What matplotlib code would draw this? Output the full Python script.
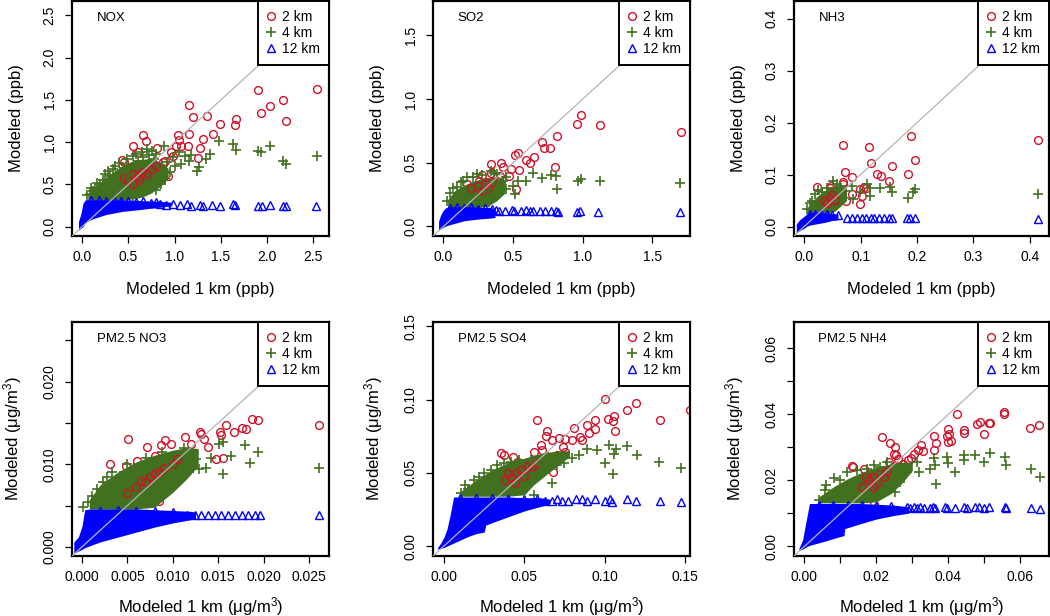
import matplotlib
matplotlib.use("Agg")
import matplotlib.pyplot as plt
from matplotlib.lines import Line2D

plt.rcParams["font.family"] = ["Liberation Sans", "DejaVu Sans"]
plt.rcParams["mathtext.fontset"] = "custom"
plt.rcParams["mathtext.rm"] = "Liberation Sans"
plt.rcParams["mathtext.it"] = "Liberation Sans:italic"

RED = "#d0112b"
GREEN = "#41701f"
BLUE = "#0000ff"
LINE_GREY = "#b4b4b4"

SERIES = ["2 km", "4 km", "12 km"]

# ---------------- NOX ----------------
NOX_RED = [(1.16, 1.44), (1.20, 1.30), (1.35, 1.31), (0.66, 1.08), (0.69, 1.01), (0.55, 0.96),
           (0.60, 0.88), (0.43, 0.79), (0.45, 0.77), (0.81, 0.93), (1.05, 1.03), (1.04, 1.09),
           (1.16, 1.10), (1.15, 0.95), (1.07, 0.96), (0.96, 0.88), (1.02, 0.96), (1.27, 0.93),
           (1.31, 1.04), (1.42, 1.10), (1.49, 1.22), (1.65, 1.20), (1.66, 1.28), (1.25, 0.81),
           (1.90, 1.62), (1.93, 1.34), (2.03, 1.43), (2.17, 1.50), (2.21, 1.25), (2.54, 1.63),
           (0.83, 0.62), (0.93, 0.60), (0.87, 0.76), (0.66, 0.62), (0.54, 0.68), (0.48, 0.55),
           (0.80, 0.55), (0.47, 0.52), (0.55, 0.60), (0.62, 0.64), (0.70, 0.68), (0.75, 0.70),
           (0.60, 0.50), (0.52, 0.48), (0.68, 0.58), (0.90, 0.78), (0.98, 0.84), (0.72, 0.75),
           (0.78, 0.74), (0.58, 0.70), (0.49, 0.70), (0.85, 0.55)]
NOX_RED_INNER = [(0.45, 0.58), (0.50, 0.55), (0.55, 0.62), (0.60, 0.60), (0.65, 0.65),
                 (0.70, 0.62), (0.62, 0.55), (0.75, 0.68), (0.80, 0.72), (0.55, 0.50)]
NOX_GREEN = [(1.48, 1.01), (1.63, 0.98), (1.66, 0.91), (1.90, 0.89), (1.93, 0.88), (2.03, 0.95),
             (2.17, 0.78), (2.21, 0.74), (2.54, 0.84), (1.24, 0.66), (1.26, 0.71), (1.34, 0.80),
             (1.38, 0.86), (1.07, 0.74), (1.16, 0.78), (1.11, 0.84), (1.18, 0.85), (0.98, 0.82),
             (0.75, 0.90), (0.19, 0.51), (0.09, 0.39), (0.14, 0.45), (0.25, 0.62), (0.33, 0.68),
             (0.40, 0.75), (0.55, 0.84), (0.65, 0.88), (0.70, 0.92), (1.00, 0.72), (0.95, 0.65),
             (0.90, 0.58), (0.85, 0.50), (0.80, 0.44), (1.05, 0.88), (0.88, 0.95), (0.12, 0.42),
             (0.22, 0.55), (0.30, 0.60), (0.45, 0.70), (0.60, 0.78), (0.78, 0.80), (0.50, 0.60),
             (0.35, 0.50), (0.62, 0.40), (0.70, 0.45), (0.20, 0.40), (0.40, 0.38), (0.55, 0.36),
             (0.28, 0.66), (0.36, 0.72), (0.48, 0.80), (0.58, 0.86), (0.66, 0.82), (0.72, 0.85),
             (0.80, 0.86), (0.92, 0.76), (0.86, 0.70), (0.10, 0.46), (0.16, 0.52), (0.05, 0.38)]
NOX_BLUE = [(0.84, 0.27), (0.91, 0.26), (0.98, 0.27), (1.06, 0.26), (1.13, 0.27), (1.18, 0.25),
            (1.27, 0.26), (1.31, 0.25), (1.40, 0.26), (1.49, 0.25), (1.63, 0.27), (1.65, 0.26),
            (1.90, 0.25), (1.94, 0.25), (2.03, 0.26), (2.17, 0.24), (2.21, 0.24), (2.53, 0.25),
            (0.10, 0.31), (0.18, 0.31), (0.26, 0.30), (0.34, 0.31), (0.42, 0.30), (0.50, 0.30),
            (0.58, 0.29), (0.66, 0.30), (0.74, 0.28), (0.80, 0.29)]
NOX_GREEN_CORE_X = [0.06, 0.15, 0.25, 0.35, 0.45, 0.55, 0.65, 0.75, 0.85, 0.93]
NOX_GREEN_CORE_LO = [0.32, 0.32, 0.32, 0.32, 0.32, 0.33, 0.35, 0.40, 0.48, 0.57]
NOX_GREEN_CORE_HI = [0.37, 0.48, 0.58, 0.66, 0.73, 0.78, 0.80, 0.80, 0.76, 0.69]
NOX_BLUE_CORE_X = [-0.04, -0.015, 0.01, 0.036, 0.108, 0.251, 0.431, 0.611, 0.826, 0.97]
NOX_BLUE_CORE_LO = [-0.04, -0.02, 0.0, 0.051, 0.091, 0.142, 0.181, 0.201, 0.229, 0.249]
NOX_BLUE_CORE_HI = [0.06, 0.15, 0.28, 0.32, 0.32, 0.32, 0.32, 0.31, 0.30, 0.29]

# ---------------- SO2 ----------------
SO2_RED = [(1.706, 0.743), (0.989, 0.876), (0.96, 0.803), (1.121, 0.793), (0.814, 0.712),
           (0.708, 0.665), (0.72, 0.616), (0.768, 0.616), (0.80, 0.47), (0.648, 0.548),
           (0.623, 0.495), (0.592, 0.522), (0.532, 0.574), (0.513, 0.561), (0.52, 0.295),
           (0.539, 0.446), (0.484, 0.451), (0.416, 0.495), (0.431, 0.464), (0.339, 0.49),
           (0.339, 0.417), (0.279, 0.407), (0.406, 0.399), (0.471, 0.399), (0.255, 0.36),
           (0.316, 0.347), (0.388, 0.36), (0.219, 0.268), (0.279, 0.256), (0.171, 0.334)]
SO2_RED_INNER = [(0.20, 0.30), (0.25, 0.32), (0.30, 0.33), (0.28, 0.28), (0.35, 0.35),
                 (0.32, 0.30)]
SO2_GREEN = [(1.699, 0.339), (1.121, 0.36), (0.989, 0.373), (0.965, 0.36), (0.809, 0.399),
             (0.816, 0.295), (0.773, 0.407), (0.708, 0.378), (0.64, 0.417), (0.592, 0.36),
             (0.532, 0.36), (0.513, 0.256), (0.496, 0.321), (0.448, 0.295), (0.327, 0.19),
             (0.424, 0.36), (0.05, 0.26), (0.027, 0.203), (0.099, 0.307), (0.171, 0.386),
             (0.243, 0.412), (0.339, 0.438), (0.123, 0.347), (0.388, 0.412), (0.448, 0.386),
             (0.291, 0.282), (0.243, 0.229), (0.171, 0.229), (0.375, 0.256), (0.07, 0.30),
             (0.14, 0.36), (0.21, 0.39), (0.28, 0.40), (0.36, 0.42), (0.41, 0.34)]
SO2_BLUE = [(0.38, 0.13), (0.40, 0.12), (0.44, 0.12), (0.49, 0.13), (0.51, 0.12), (0.56, 0.12),
            (0.59, 0.13), (0.62, 0.12), (0.64, 0.12), (0.69, 0.12), (0.73, 0.12), (0.77, 0.12),
            (0.81, 0.12), (0.82, 0.11), (0.96, 0.11), (0.98, 0.12), (1.11, 0.11), (1.70, 0.11),
            (0.05, 0.145), (0.10, 0.15), (0.15, 0.145), (0.20, 0.15), (0.25, 0.14), (0.30, 0.145),
            (0.35, 0.14)]
SO2_GREEN_CORE_X = [0.03, 0.08, 0.14, 0.20, 0.26, 0.32, 0.38, 0.44]
SO2_GREEN_CORE_LO = [0.15, 0.15, 0.15, 0.15, 0.15, 0.16, 0.20, 0.26]
SO2_GREEN_CORE_HI = [0.21, 0.28, 0.32, 0.35, 0.37, 0.38, 0.38, 0.36]
SO2_BLUE_CORE_X = [-0.035, -0.02, 0.0, 0.02, 0.05, 0.10, 0.15, 0.20, 0.27, 0.33, 0.37]
SO2_BLUE_CORE_LO = [-0.03, -0.02, -0.005, 0.005, 0.015, 0.03, 0.045, 0.052, 0.06, 0.065, 0.07]
SO2_BLUE_CORE_HI = [0.04, 0.09, 0.13, 0.15, 0.155, 0.155, 0.155, 0.155, 0.15, 0.15, 0.14]

# ---------------- NH3 ----------------
NH3_RED = [(0.069, 0.157), (0.115, 0.153), (0.19, 0.174), (0.414, 0.166), (0.119, 0.122),
           (0.196, 0.128), (0.072, 0.105), (0.084, 0.096), (0.13, 0.102), (0.137, 0.098),
           (0.156, 0.116), (0.184, 0.101), (0.15, 0.088), (0.069, 0.085), (0.068, 0.082),
           (0.022, 0.077), (0.045, 0.075), (0.049, 0.069), (0.103, 0.059), (0.099, 0.072),
           (0.109, 0.075), (0.084, 0.063), (0.075, 0.05), (0.058, 0.056), (0.099, 0.044),
           (0.106, 0.077), (0.047, 0.079)]
NH3_RED_INNER = [(0.035, 0.050), (0.045, 0.055), (0.050, 0.060), (0.055, 0.052), (0.040, 0.045)]
NH3_GREEN = [(0.414, 0.063), (0.196, 0.072), (0.184, 0.056), (0.193, 0.066), (0.156, 0.066),
             (0.152, 0.077), (0.134, 0.075), (0.116, 0.075), (0.111, 0.082), (0.116, 0.058),
             (0.087, 0.053), (0.099, 0.066), (0.084, 0.079), (0.052, 0.088), (0.04, 0.075),
             (0.014, 0.05), (0.005, 0.034), (0.019, 0.063), (0.063, 0.079), (0.075, 0.069),
             (0.031, 0.066), (0.025, 0.070), (0.058, 0.082), (0.010, 0.045)]
NH3_BLUE = [(0.076, 0.017), (0.085, 0.016), (0.094, 0.017), (0.103, 0.016), (0.109, 0.017),
            (0.118, 0.016), (0.123, 0.017), (0.132, 0.016), (0.141, 0.017), (0.15, 0.016),
            (0.156, 0.016), (0.182, 0.016), (0.188, 0.016), (0.197, 0.016), (0.414, 0.015),
            (0.01, 0.025), (0.02, 0.025), (0.03, 0.024), (0.04, 0.024), (0.05, 0.023),
            (0.06, 0.022)]
NH3_GREEN_CORE_X = [0.005, 0.015, 0.025, 0.035, 0.045, 0.055, 0.065, 0.075]
NH3_GREEN_CORE_LO = [0.025, 0.025, 0.025, 0.025, 0.026, 0.030, 0.040, 0.050]
NH3_GREEN_CORE_HI = [0.036, 0.050, 0.060, 0.068, 0.074, 0.077, 0.078, 0.075]
NH3_BLUE_CORE_X = [-0.014, -0.008, 0.0, 0.005, 0.01, 0.02, 0.03, 0.04, 0.05, 0.06]
NH3_BLUE_CORE_LO = [-0.012, -0.008, -0.003, 0.001, 0.003, 0.005, 0.007, 0.009, 0.012, 0.013]
NH3_BLUE_CORE_HI = [0.005, 0.013, 0.020, 0.025, 0.027, 0.027, 0.027, 0.026, 0.025, 0.024]

# ---------------- PM2.5 NO3 ----------------
NO3_RED = [(0.0261, 0.0148), (0.0194, 0.0154), (0.0187, 0.0155), (0.0176, 0.0144),
           (0.0181, 0.0142), (0.0167, 0.0139), (0.0159, 0.0147), (0.0152, 0.0139),
           (0.0153, 0.0135), (0.0155, 0.0107), (0.0148, 0.0106), (0.0130, 0.0139),
           (0.0131, 0.0137), (0.0134, 0.0131), (0.0139, 0.0121), (0.0113, 0.0133),
           (0.0120, 0.0125), (0.0098, 0.0125), (0.0091, 0.0129), (0.0087, 0.0123),
           (0.0072, 0.0121), (0.0051, 0.0131), (0.0061, 0.0104), (0.0031, 0.0100),
           (0.0048, 0.0098), (0.0080, 0.0110), (0.0083, 0.0078), (0.0085, 0.0055),
           (0.0055, 0.0081), (0.0103, 0.0106), (0.0109, 0.0110), (0.0116, 0.0102),
           (0.0074, 0.0094), (0.0064, 0.0084), (0.0048, 0.0068)]
NO3_RED_INNER = [(0.0050, 0.0065), (0.0060, 0.0072), (0.0070, 0.0078), (0.0075, 0.0085),
                 (0.0080, 0.0088), (0.0090, 0.0095), (0.0100, 0.0100), (0.0105, 0.0106),
                 (0.0065, 0.0080), (0.0085, 0.0090)]
NO3_GREEN = [(0.0261, 0.0095), (0.0185, 0.0102), (0.0194, 0.0115), (0.0179, 0.0123),
             (0.0164, 0.0110), (0.0155, 0.0088), (0.0155, 0.0127), (0.0151, 0.0125),
             (0.0142, 0.0108), (0.0137, 0.0095), (0.0129, 0.0094), (0.0122, 0.0096),
             (0.0109, 0.0094), (0.0099, 0.0098), (0.0071, 0.0107), (0.0033, 0.0090),
             (0.0023, 0.0078), (0.0016, 0.0070), (0.0011, 0.0062), (0.0007, 0.0054),
             (0.0057, 0.0096), (0.0042, 0.0086), (0.0001, 0.0048), (0.0027, 0.0084),
             (0.0050, 0.0100), (0.0088, 0.0115), (0.0112, 0.0120), (0.0125, 0.0106)]
NO3_BLUE = [(0.0116, 0.0039), (0.0124, 0.0038), (0.0131, 0.0039), (0.0139, 0.0038),
            (0.0146, 0.0038), (0.0153, 0.0039), (0.0161, 0.0038), (0.0168, 0.0038),
            (0.0176, 0.0039), (0.0183, 0.0038), (0.0190, 0.0038), (0.0196, 0.0038),
            (0.0261, 0.0038), (0.002, 0.0044), (0.004, 0.0045), (0.006, 0.0044),
            (0.008, 0.0043), (0.010, 0.0042)]
NO3_GREEN_CORE_X = [0.0008, 0.002, 0.004, 0.006, 0.008, 0.010, 0.0115, 0.0128]
NO3_GREEN_CORE_LO = [0.0046, 0.0046, 0.0046, 0.0046, 0.0048, 0.0066, 0.0082, 0.0098]
NO3_GREEN_CORE_HI = [0.0057, 0.0075, 0.0091, 0.0103, 0.0111, 0.0117, 0.0120, 0.0119]
NO3_BLUE_CORE_X = [-0.0009, -0.0004, 0.0, 0.0003, 0.001, 0.002, 0.004, 0.006, 0.008, 0.010,
                   0.012, 0.0125]
NO3_BLUE_CORE_LO = [-0.0008, -0.0005, -0.0003, -0.0001, 0.0002, 0.0006, 0.0012, 0.0018,
                    0.0024, 0.0029, 0.0033, 0.0034]
NO3_BLUE_CORE_HI = [0.0006, 0.0012, 0.0025, 0.0045, 0.0046, 0.0046, 0.0046, 0.0046, 0.0045,
                    0.0044, 0.0043, 0.0042]

# ---------------- PM2.5 SO4 ----------------
SO4_RED = [(0.1532, 0.0927), (0.1343, 0.0859), (0.1197, 0.0977), (0.1138, 0.0927),
           (0.1004, 0.1006), (0.1021, 0.0870), (0.1052, 0.0854), (0.1057, 0.0888),
           (0.1063, 0.0789), (0.0937, 0.0863), (0.0941, 0.0797), (0.0899, 0.0775),
           (0.0889, 0.0825), (0.0857, 0.0723), (0.0847, 0.0746), (0.0811, 0.0809),
           (0.0794, 0.0727), (0.0742, 0.0678), (0.0715, 0.0739), (0.0752, 0.0734),
           (0.0669, 0.0723), (0.0643, 0.0784), (0.0633, 0.0752), (0.0601, 0.0689),
           (0.0580, 0.0863), (0.0612, 0.0655), (0.0560, 0.0644), (0.0700, 0.0625),
           (0.0752, 0.0644), (0.0669, 0.0576), (0.0679, 0.0508), (0.0354, 0.0632),
           (0.0375, 0.0621), (0.0428, 0.0610), (0.0522, 0.0576), (0.0480, 0.0542),
           (0.0438, 0.0485), (0.0396, 0.0440), (0.0511, 0.0519), (0.0459, 0.0576)]
SO4_RED_INNER = [(0.038, 0.045), (0.042, 0.047), (0.045, 0.050), (0.048, 0.052), (0.050, 0.048),
                 (0.052, 0.055), (0.055, 0.054), (0.058, 0.057), (0.044, 0.043), (0.040, 0.050)]
SO4_GREEN = [(0.1475, 0.0530), (0.1340, 0.0576), (0.1199, 0.0621), (0.1140, 0.0684),
             (0.1067, 0.0666), (0.1057, 0.0628), (0.1052, 0.0489), (0.1004, 0.0564),
             (0.1025, 0.0689), (0.0952, 0.0655), (0.0889, 0.0666), (0.0840, 0.0621),
             (0.0794, 0.0598), (0.0748, 0.0564), (0.0669, 0.0428), (0.0700, 0.0553),
             (0.0626, 0.0530), (0.0103, 0.0360), (0.0134, 0.0417), (0.0186, 0.0451),
             (0.0249, 0.0496), (0.0333, 0.0553), (0.0375, 0.0564), (0.0469, 0.0587),
             (0.0543, 0.0587), (0.0595, 0.0553), (0.0560, 0.0349), (0.0150, 0.0390),
             (0.0220, 0.0470), (0.0290, 0.0520), (0.0420, 0.0575), (0.0650, 0.0610)]
SO4_BLUE = [(0.0669, 0.031), (0.0700, 0.032), (0.0731, 0.031), (0.0774, 0.031), (0.0820, 0.032),
            (0.0857, 0.032), (0.0889, 0.031), (0.0937, 0.032), (0.1004, 0.031), (0.1035, 0.032),
            (0.1042, 0.030), (0.1140, 0.032), (0.1197, 0.031), (0.1343, 0.031), (0.1475, 0.030),
            (0.010, 0.033), (0.020, 0.033), (0.030, 0.033), (0.040, 0.032), (0.050, 0.032),
            (0.058, 0.032), (0.063, 0.031)]
SO4_GREEN_CORE_X = [0.010, 0.020, 0.030, 0.040, 0.050, 0.056, 0.064, 0.072, 0.078]
SO4_GREEN_CORE_LO = [0.034, 0.034, 0.034, 0.034, 0.035, 0.042, 0.049, 0.056, 0.061]
SO4_GREEN_CORE_HI = [0.037, 0.045, 0.052, 0.057, 0.060, 0.062, 0.064, 0.065, 0.065]
SO4_BLUE_CORE_X = [-0.004, -0.002, 0.0, 0.002, 0.004, 0.006, 0.010, 0.015, 0.020, 0.025, 0.026,
                   0.030, 0.040, 0.050, 0.060, 0.066]
SO4_BLUE_CORE_LO = [-0.002, -0.0015, -0.001, 0.0, 0.001, 0.002, 0.004, 0.0065, 0.0085, 0.0095,
                    0.0143, 0.016, 0.020, 0.024, 0.027, 0.029]
SO4_BLUE_CORE_HI = [-0.001, 0.002, 0.006, 0.012, 0.022, 0.0335, 0.0335, 0.0335, 0.0335, 0.0335,
                    0.0335, 0.0335, 0.0335, 0.033, 0.033, 0.032]

# ---------------- PM2.5 NH4 ----------------
NH4_RED = [(0.0423, 0.0400), (0.0480, 0.0372), (0.0489, 0.0376), (0.0514, 0.0374),
           (0.0498, 0.0341), (0.0444, 0.0354), (0.0444, 0.0343), (0.0400, 0.0357),
           (0.0403, 0.0341), (0.0396, 0.0336), (0.0398, 0.0316), (0.0407, 0.0319),
           (0.0359, 0.0336), (0.0366, 0.0313), (0.0359, 0.0291), (0.0331, 0.0289),
           (0.0324, 0.0306), (0.0315, 0.0293), (0.0306, 0.0281), (0.0296, 0.0269),
           (0.0287, 0.0261), (0.0273, 0.0251), (0.0259, 0.0266), (0.0255, 0.0276),
           (0.0250, 0.0245), (0.0236, 0.0255), (0.0215, 0.0333), (0.0239, 0.0313),
           (0.0253, 0.0301), (0.0248, 0.0279), (0.0167, 0.0235), (0.0131, 0.0245),
           (0.0134, 0.0240), (0.0194, 0.0129), (0.0185, 0.0200), (0.0204, 0.0210),
           (0.0176, 0.0195), (0.0157, 0.0200), (0.0218, 0.0225), (0.0628, 0.0360),
           (0.0651, 0.0368), (0.0556, 0.0408), (0.0554, 0.0400), (0.0515, 0.0373)]
NH4_RED_INNER = [(0.016, 0.018), (0.018, 0.020), (0.019, 0.021), (0.020, 0.019), (0.021, 0.022),
                 (0.022, 0.021), (0.017, 0.021), (0.023, 0.023), (0.019, 0.018)]
NH4_GREEN = [(0.0654, 0.0211), (0.0631, 0.0234), (0.0558, 0.0272), (0.0561, 0.0248),
             (0.0515, 0.0282), (0.0498, 0.0257), (0.0475, 0.0277), (0.0443, 0.0277),
             (0.0444, 0.0262), (0.0419, 0.0226), (0.0398, 0.0252), (0.0396, 0.0272),
             (0.0364, 0.0246), (0.0367, 0.0188), (0.0359, 0.0267), (0.0348, 0.0236),
             (0.0313, 0.0257), (0.0318, 0.0226), (0.0285, 0.0226), (0.0253, 0.0166),
             (0.0267, 0.0196), (0.0211, 0.0242), (0.0174, 0.0236), (0.0119, 0.0226),
             (0.0081, 0.0206), (0.0058, 0.0171), (0.0040, 0.0140), (0.0146, 0.0231),
             (0.0193, 0.0246), (0.0100, 0.0200), (0.0060, 0.0185), (0.0230, 0.0255)]
NH4_BLUE = [(0.0285, 0.0118), (0.0294, 0.0117), (0.0304, 0.0118), (0.0313, 0.0117),
            (0.0322, 0.0118), (0.0333, 0.0117), (0.0350, 0.0117), (0.0357, 0.0118),
            (0.0364, 0.0116), (0.0392, 0.0118), (0.0396, 0.0117), (0.0419, 0.0117),
            (0.0443, 0.0118), (0.0452, 0.0116), (0.0475, 0.0119), (0.0484, 0.0118),
            (0.0498, 0.0117), (0.0512, 0.0118), (0.0558, 0.0119), (0.0561, 0.0116),
            (0.0631, 0.0115), (0.0654, 0.0113), (0.004, 0.0125), (0.008, 0.0125),
            (0.012, 0.0126), (0.016, 0.0125), (0.020, 0.0124), (0.024, 0.0121)]
NH4_GREEN_CORE_X = [0.004, 0.008, 0.012, 0.016, 0.020, 0.024, 0.027, 0.030]
NH4_GREEN_CORE_LO = [0.0132, 0.0132, 0.0132, 0.0132, 0.0135, 0.016, 0.019, 0.023]
NH4_GREEN_CORE_HI = [0.0150, 0.0180, 0.0205, 0.0225, 0.0240, 0.0250, 0.0255, 0.0255]
NH4_BLUE_CORE_X = [-0.0015, -0.0005, 0.0, 0.0007, 0.0014, 0.003, 0.006, 0.009, 0.011, 0.0112,
                   0.015, 0.020, 0.025, 0.029]
NH4_BLUE_CORE_LO = [-0.0012, -0.0008, -0.0005, 0.0, 0.0003, 0.0008, 0.0017, 0.0027, 0.0033,
                    0.0054, 0.0067, 0.0083, 0.0094, 0.0101]
NH4_BLUE_CORE_HI = [-0.0005, 0.002, 0.005, 0.009, 0.013, 0.013, 0.013, 0.013, 0.013, 0.013,
                    0.013, 0.0128, 0.0125, 0.012]

# ---------------- axis setup ----------------
PPB = "(ppb)"
UGM3 = "(μg/m$^3$)"

NOX_TICKS = [0.0, 0.5, 1.0, 1.5, 2.0, 2.5]
NOX_LABELS = ["0.0", "0.5", "1.0", "1.5", "2.0", "2.5"]
SO2_TICKS = [0.0, 0.5, 1.0, 1.5]
SO2_LABELS = ["0.0", "0.5", "1.0", "1.5"]
NH3_TICKS = [0.0, 0.1, 0.2, 0.3, 0.4]
NH3_LABELS = ["0.0", "0.1", "0.2", "0.3", "0.4"]
NO3_TICKS = [0.0, 0.005, 0.010, 0.015, 0.020, 0.025]
NO3_XLABELS = ["0.000", "0.005", "0.010", "0.015", "0.020", "0.025"]
NO3_YLABELS = ["0.000", "", "0.010", "", "0.020", ""]
SO4_TICKS = [0.0, 0.05, 0.10, 0.15]
SO4_LABELS = ["0.00", "0.05", "0.10", "0.15"]
NH4_TICKS = [0.0, 0.01, 0.02, 0.03, 0.04, 0.05, 0.06]
NH4_LABELS = ["0.00", "", "0.02", "", "0.04", "", "0.06"]

PANELS = [
    dict(title="NOX", unit=PPB, lim=(-0.11, 2.67), ticks=NOX_TICKS, xl=NOX_LABELS, yl=NOX_LABELS,
         red=NOX_RED, red_in=NOX_RED_INNER, green=NOX_GREEN, blue=NOX_BLUE,
         gcore=(NOX_GREEN_CORE_X, NOX_GREEN_CORE_LO, NOX_GREEN_CORE_HI),
         bcore=(NOX_BLUE_CORE_X, NOX_BLUE_CORE_LO, NOX_BLUE_CORE_HI), box=(72, 1, 329, 236)),
    dict(title="SO2", unit=PPB, lim=(-0.075, 1.77), ticks=SO2_TICKS, xl=SO2_LABELS, yl=SO2_LABELS,
         red=SO2_RED, red_in=SO2_RED_INNER, green=SO2_GREEN, blue=SO2_BLUE,
         gcore=(SO2_GREEN_CORE_X, SO2_GREEN_CORE_LO, SO2_GREEN_CORE_HI),
         bcore=(SO2_BLUE_CORE_X, SO2_BLUE_CORE_LO, SO2_BLUE_CORE_HI), box=(433, 1, 690, 236)),
    dict(title="NH3", unit=PPB, lim=(-0.018, 0.434), ticks=NH3_TICKS, xl=NH3_LABELS, yl=NH3_LABELS,
         red=NH3_RED, red_in=NH3_RED_INNER, green=NH3_GREEN, blue=NH3_BLUE,
         gcore=(NH3_GREEN_CORE_X, NH3_GREEN_CORE_LO, NH3_GREEN_CORE_HI),
         bcore=(NH3_BLUE_CORE_X, NH3_BLUE_CORE_LO, NH3_BLUE_CORE_HI), box=(794, 1, 1049, 236)),
    dict(title="PM2.5 NO3", unit=UGM3, lim=(-0.0011, 0.0272), ticks=NO3_TICKS, xl=NO3_XLABELS,
         yl=NO3_YLABELS, red=NO3_RED, red_in=NO3_RED_INNER, green=NO3_GREEN, blue=NO3_BLUE,
         gcore=(NO3_GREEN_CORE_X, NO3_GREEN_CORE_LO, NO3_GREEN_CORE_HI),
         bcore=(NO3_BLUE_CORE_X, NO3_BLUE_CORE_LO, NO3_BLUE_CORE_HI), box=(72, 322, 329, 556)),
    dict(title="PM2.5 SO4", unit=UGM3, lim=(-0.0068, 0.153), ticks=SO4_TICKS, xl=SO4_LABELS,
         yl=SO4_LABELS, red=SO4_RED, red_in=SO4_RED_INNER, green=SO4_GREEN, blue=SO4_BLUE,
         gcore=(SO4_GREEN_CORE_X, SO4_GREEN_CORE_LO, SO4_GREEN_CORE_HI),
         bcore=(SO4_BLUE_CORE_X, SO4_BLUE_CORE_LO, SO4_BLUE_CORE_HI), box=(433, 322, 690, 556)),
    dict(title="PM2.5 NH4", unit=UGM3, lim=(-0.0029, 0.068), ticks=NH4_TICKS, xl=NH4_LABELS,
         yl=NH4_LABELS, red=NH4_RED, red_in=NH4_RED_INNER, green=NH4_GREEN, blue=NH4_BLUE,
         gcore=(NH4_GREEN_CORE_X, NH4_GREEN_CORE_LO, NH4_GREEN_CORE_HI),
         bcore=(NH4_BLUE_CORE_X, NH4_BLUE_CORE_LO, NH4_BLUE_CORE_HI), box=(794, 322, 1049, 556)),
]

W, H = 1050, 616
CIRCLE = dict(ls="none", marker="o", mfc="none", mec=RED, ms=5.6, mew=1.0)
PLUS = dict(ls="none", marker="+", color=GREEN, ms=7.6, mew=1.2)
TRI = dict(ls="none", marker="^", mfc="none", mec=BLUE, ms=6.2, mew=1.0)


def draw_panel(fig, p):
    x0, y0, x1, y1 = p["box"]
    w, h = x1 - x0, y1 - y0
    ax = fig.add_axes([x0 / W, 1 - y1 / H, w / W, h / H])

    rx, ry = zip(*p["red"])
    ix, iy = zip(*p["red_in"])
    gx, gy = zip(*p["green"])
    bx, by = zip(*p["blue"])

    ax.plot(rx, ry, **CIRCLE, zorder=2)
    ax.fill_between(*p["gcore"], color=GREEN, lw=0, zorder=3)
    ax.plot(ix, iy, **CIRCLE, zorder=3.2)
    ax.plot(gx, gy, **PLUS, zorder=3.4)
    ax.fill_between(*p["bcore"], color=BLUE, lw=0, zorder=4)
    ax.plot(bx, by, **TRI, zorder=4)
    ax.axline((0, 0), slope=1, color=LINE_GREY, lw=0.9, zorder=5)

    ax.set_xlim(p["lim"])
    ax.set_ylim(p["lim"])
    ax.set_xticks(p["ticks"])
    ax.set_xticklabels(p["xl"])
    ax.set_yticks(p["ticks"])
    ax.set_yticklabels(p["yl"], rotation=90, va="center")
    ax.tick_params(length=5, width=0.9, labelsize=10, direction="out")
    ax.tick_params(axis="x", pad=5)
    ax.tick_params(axis="y", pad=6)
    for s in ax.spines.values():
        s.set_linewidth(1.6)

    # axis titles placed in pixel offsets from the frame, like R's mgp lines
    top_row = y0 < 100
    ax.set_xlabel("Modeled 1 km " + p["unit"], fontsize=12)
    ax.set_ylabel("Modeled " + p["unit"], fontsize=12)
    xl_gap = 46 if top_row else 39
    ax.xaxis.set_label_coords(0.5, -xl_gap / h)
    ax.yaxis.set_label_coords(-48 / w, 0.5)

    ax.text(0.096, 0.926, p["title"], transform=ax.transAxes, fontsize=9.5,
            ha="left", va="center")

    handles = [Line2D([], [], **CIRCLE), Line2D([], [], **PLUS), Line2D([], [], **TRI)]
    leg = ax.legend(handles, SERIES, loc="upper right", borderaxespad=0, fancybox=False,
                    framealpha=1, edgecolor="black", fontsize=10, handlelength=0.55,
                    handletextpad=0.55, labelspacing=0.14, borderpad=0.65)
    leg.get_frame().set_linewidth(1.4)
    leg.set_zorder(10)


fig = plt.figure(figsize=(W / 100, H / 100), dpi=100)
for p in PANELS:
    draw_panel(fig, p)

fig.savefig("out.png", dpi=100)
